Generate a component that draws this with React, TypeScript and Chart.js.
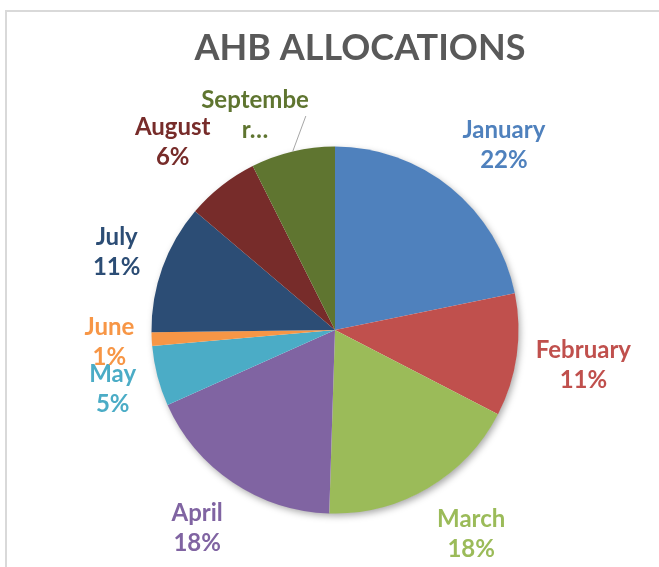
import React, { useEffect, useRef } from "react";
import { Chart, registerables } from "chart.js";

Chart.register(...registerables);

// ---- data ----
const months = ["January", "February", "March", "April", "May", "June", "July", "August", "September"];
const shares = [21.8, 10.8, 17.9, 17.8, 5.3, 1.2, 11.4, 6.4, 7.4];
const sliceColors = ["#4F81BD", "#C0504D", "#9BBB59", "#8064A2", "#4BACC6", "#F79646", "#2C4D75", "#772C2A", "#5F7530"];
const titleText = "AHB ALLOCATIONS";
// labels that Excel cut short (text that did not fit its box)
const truncatedLabels: Record<string, string[]> = { September: ["Septembe", "r…"] };
// labels moved off their slice with a leader line
const leaderLabels: Record<string, { angleShift: number; gap: number }> = { September: { angleShift: -7, gap: 0 } };

const FONT = "Lato, 'Open Sans', sans-serif";
const LABEL_SIZE = 24;
const LINE_H = 30;
const GAP = 16;
const CORNER_GAP = 18;

const framePlugin = {
  id: "frame",
  beforeDraw(chart: any) {
    const ctx = chart.ctx;
    ctx.save();
    ctx.fillStyle = "#ffffff";
    ctx.fillRect(0, 0, chart.width, chart.height);
    ctx.strokeStyle = "#d9d9d9";
    ctx.lineWidth = 2;
    ctx.strokeRect(6, 11, chart.width + 40, chart.height + 40);
    // title
    ctx.fillStyle = "#595959";
    ctx.font = `bold 36px ${FONT}`;
    ctx.textAlign = "center";
    ctx.textBaseline = "alphabetic";
    ctx.fillText(titleText, 360, 60);
    ctx.restore();
  },
};

const shadowPlugin = {
  id: "pieShadow",
  beforeDatasetsDraw(chart: any) {
    const meta = chart.getDatasetMeta(0);
    if (!meta.data.length) return;
    const { x, y, outerRadius } = meta.data[0].getProps(["x", "y", "outerRadius"], true);
    const ctx = chart.ctx;
    ctx.save();
    ctx.shadowColor = "rgba(0,0,0,0.35)";
    ctx.shadowBlur = 7;
    ctx.shadowOffsetX = 2;
    ctx.shadowOffsetY = 3;
    ctx.fillStyle = "#ffffff";
    ctx.beginPath();
    ctx.arc(x, y, outerRadius - 0.5, 0, Math.PI * 2);
    ctx.fill();
    ctx.restore();
  },
};

const labelPlugin = {
  id: "outsideLabels",
  afterDatasetsDraw(chart: any) {
    const ctx = chart.ctx;
    const meta = chart.getDatasetMeta(0);
    const total = shares.reduce((a, b) => a + b, 0);
    ctx.save();
    ctx.font = `bold ${LABEL_SIZE}px ${FONT}`;
    ctx.textAlign = "center";
    ctx.textBaseline = "middle";
    meta.data.forEach((arc: any, i: number) => {
      const { x, y, startAngle, endAngle, outerRadius } = arc.getProps(
        ["x", "y", "startAngle", "endAngle", "outerRadius"],
        true
      );
      const mid = (startAngle + endAngle) / 2;
      const pct = Math.round((shares[i] / total) * 100) + "%";
      const name = months[i];
      const lines = truncatedLabels[name] ?? [name, pct];
      const w = Math.max(...lines.map((l) => ctx.measureText(l).width));
      const h = lines.length * LINE_H;
      const opt = leaderLabels[name];
      let cx: number;
      let cy: number;
      if (opt) {
        const ang = mid + (opt.angleShift * Math.PI) / 180;
        const ux = Math.cos(ang);
        const uy = Math.sin(ang);
        const d = outerRadius + opt.gap + (Math.abs(ux) * w) / 2 + (Math.abs(uy) * h) / 2;
        cx = x + ux * d;
        cy = y + uy * d;
        ctx.strokeStyle = "#a6a6a6";
        ctx.lineWidth = 1;
        ctx.beginPath();
        ctx.moveTo(x + Math.cos(mid) * outerRadius, y + Math.sin(mid) * outerRadius);
        ctx.lineTo(cx + w / 2 - 3, cy + 2);
        ctx.stroke();
      } else {
        const ux = Math.cos(mid);
        const uy = Math.sin(mid);
        // radial placement (box touches the circle offset)
        const d = outerRadius + GAP + (Math.abs(ux) * w) / 2 + (Math.abs(uy) * h) / 2;
        const sx1 = x + ux * d;
        const sy1 = y + uy * d;
        // corner placement (box corner at the anchor point)
        const ax = x + ux * (outerRadius + CORNER_GAP);
        const ay = y + uy * (outerRadius + CORNER_GAP);
        const sx2 = ax + Math.sign(ux) * (w / 2);
        const sy2 = ay + Math.sign(uy) * (h / 2);
        const t = Math.min(1, Math.max(0, (Math.abs(uy) - 0.5) / 0.2));
        cx = sx1 + (sx2 - sx1) * t;
        cy = sy1 + (sy2 - sy1) * t;
      }
      ctx.fillStyle = sliceColors[i];
      lines.forEach((l, k) => {
        ctx.fillText(l, cx, cy - h / 2 + LINE_H / 2 + k * LINE_H + 1);
      });
    });
    ctx.restore();
  },
};

export default function App() {
  const ref = useRef<HTMLCanvasElement | null>(null);
  useEffect(() => {
    document.body.style.margin = "0";
    if (!ref.current) return;
    const chart = new Chart(ref.current, {
      type: "pie",
      data: {
        labels: months,
        datasets: [
          {
            data: shares,
            backgroundColor: sliceColors,
            borderWidth: 0,
            hoverOffset: 0,
          },
        ],
      },
      options: {
        responsive: false,
        animation: false,
        layout: { padding: { left: 151.5, right: 140.5, top: 146.5, bottom: 53.5 } },
        plugins: {
          legend: { display: false },
          title: { display: false },
          tooltip: { enabled: false },
        },
      },
      plugins: [framePlugin, shadowPlugin, labelPlugin],
    });
    return () => chart.destroy();
  }, []);
  return (
    <div style={{ position: "absolute", left: 0, top: 0, width: 659, height: 567, overflow: "hidden" }}>
      <canvas ref={ref} width={659} height={567} />
    </div>
  );
}
